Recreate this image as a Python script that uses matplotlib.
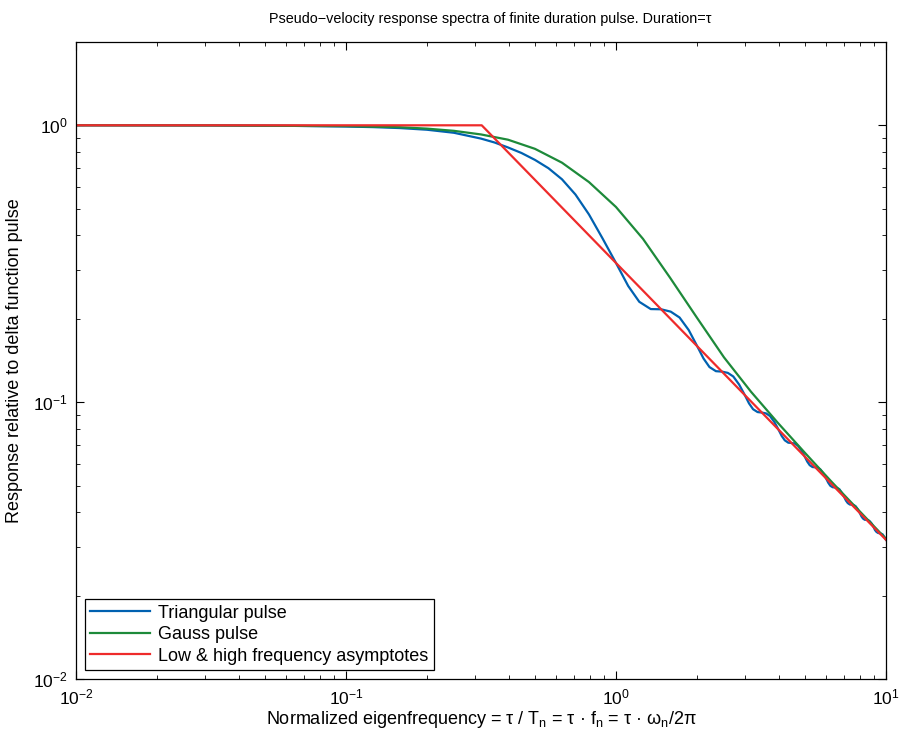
import matplotlib
matplotlib.use("Agg")
import matplotlib.pyplot as plt
from matplotlib.ticker import LogLocator, NullFormatter

plt.rcParams['font.family'] = ['Liberation Sans', 'DejaVu Sans']
plt.rcParams['mathtext.fontset'] = 'custom'
plt.rcParams['mathtext.rm'] = 'Liberation Sans'
plt.rcParams['mathtext.it'] = 'Liberation Sans:italic'

# values (normalized frequency, response)
tri_f = [0.01, 0.0316, 0.0631, 0.1, 0.1259, 0.1585, 0.1995, 0.2512, 0.3162, 0.3548,
         0.3981, 0.4467, 0.5012, 0.5623, 0.6310, 0.7079, 0.7943, 0.8913,
         1.0, 1.11, 1.22, 1.345, 1.47, 1.595, 1.72, 1.86,
         2.0, 2.11, 2.22, 2.345, 2.47, 2.595, 2.72, 2.86,
         3.0, 3.11, 3.22, 3.345, 3.47, 3.595, 3.72, 3.86,
         4.0, 4.11, 4.22, 4.345, 4.47, 4.595, 4.72, 4.86,
         5.0, 5.11, 5.22, 5.345, 5.47, 5.595, 5.72, 5.86,
         6.0, 6.11, 6.22, 6.345, 6.47, 6.595, 6.72, 6.86,
         7.0, 7.11, 7.22, 7.345, 7.47, 7.595, 7.72, 7.86,
         8.0, 8.11, 8.22, 8.345, 8.47, 8.595, 8.72, 8.86,
         9.0, 9.11, 9.22, 9.345, 9.47, 9.595, 9.72, 9.86, 10.0]
tri_r = [1.0, 0.9986, 0.9954, 0.9897, 0.9851, 0.9772, 0.9638, 0.9397, 0.8954, 0.8670,
         0.8318, 0.7943, 0.7499, 0.6998, 0.6383, 0.5623, 0.4764, 0.3908,
         0.3183, 0.2628, 0.2304, 0.2169, 0.2165, 0.2123, 0.2022, 0.1821,
         0.1592, 0.1438, 0.1339, 0.1294, 0.1289, 0.1276, 0.1238, 0.1157,
         0.1061, 0.0990, 0.0943, 0.0921, 0.0917, 0.0911, 0.0891, 0.0848,
         0.07958, 0.0755, 0.0728, 0.0714, 0.07121, 0.0709, 0.0696, 0.0670,
         0.06366, 0.0610, 0.0592, 0.0583, 0.05819, 0.0580, 0.0571, 0.0553,
         0.05305, 0.0512, 0.0499, 0.0493, 0.04920, 0.0490, 0.0485, 0.0471,
         0.04547, 0.0441, 0.0432, 0.0427, 0.04261, 0.0425, 0.0421, 0.0411,
         0.03979, 0.0387, 0.0380, 0.0376, 0.03758, 0.0375, 0.0371, 0.0364,
         0.03537, 0.0345, 0.0340, 0.0337, 0.03361, 0.0335, 0.0333, 0.0326, 0.03183]

gauss_f = [0.01, 0.0316, 0.1, 0.1585, 0.1995, 0.2512, 0.3162, 0.3981, 0.5012, 0.6310,
           0.7943, 1.0, 1.2589, 1.5849, 1.9953, 2.5119, 3.1623, 3.9811, 5.0119, 6.3096,
           7.9433, 10.0]
gauss_r = [1.0, 0.9988, 0.9931, 0.9840, 0.9727, 0.9550, 0.9268, 0.8872, 0.8222, 0.7328,
           0.6237, 0.5070, 0.3890, 0.2818, 0.2018, 0.1452, 0.1091, 0.0841, 0.0656, 0.0514,
           0.0406, 0.0321]

asym_f = [0.01, 0.3183, 10.0]
asym_r = [1.0, 1.0, 0.03183]

labels = ['Triangular pulse', 'Gauss pulse', 'Low & high frequency asymptotes']

fig = plt.figure(figsize=(8.99, 7.36), dpi=100)
ax = fig.add_axes([0.0845, 0.0774, 0.901, 0.8656])

ax.loglog(tri_f, tri_r, color='#0061b0', lw=1.6, label=labels[0])
ax.loglog(gauss_f, gauss_r, color='#1d8a3a', lw=1.6, label=labels[1])
ax.loglog(asym_f, asym_r, color='#ee2b2b', lw=1.6, label=labels[2])

ax.set_xlim(0.01, 10)
ax.set_ylim(0.01, 2)

ax.xaxis.set_minor_locator(LogLocator(base=10, subs=range(2, 10)))
ax.yaxis.set_minor_locator(LogLocator(base=10, subs=range(2, 10)))
ax.xaxis.set_minor_formatter(NullFormatter())
ax.yaxis.set_minor_formatter(NullFormatter())
ax.tick_params(which='both', direction='in', top=True, right=True, labelsize=12.5, pad=6)
ax.tick_params(which='major', length=6)
ax.tick_params(which='minor', length=3)
for s in ax.spines.values():
    s.set_linewidth(0.9)

ax.set_title('Pseudo\u2212velocity response spectra of finite duration pulse. Duration=\u03c4',
             fontsize=10.4, pad=14, x=0.512)
ax.set_xlabel('Normalized eigenfrequency = \u03c4 / T$_\\mathrm{n}$ = \u03c4 \u00b7 f$_\\mathrm{n}$'
              ' = \u03c4 \u00b7 \u03c9$_\\mathrm{n}$/2\u03c0', fontsize=13, labelpad=1)
ax.set_ylabel('Response relative to delta function pulse', fontsize=13, labelpad=7)

leg = ax.legend(loc='lower left', fontsize=13, fancybox=False, framealpha=1,
                edgecolor='black', borderaxespad=0.5, handlelength=3.3,
                handletextpad=0.45, labelspacing=0.25, borderpad=0.3)
leg.get_frame().set_linewidth(0.9)

plt.savefig('out.png', dpi=100)
